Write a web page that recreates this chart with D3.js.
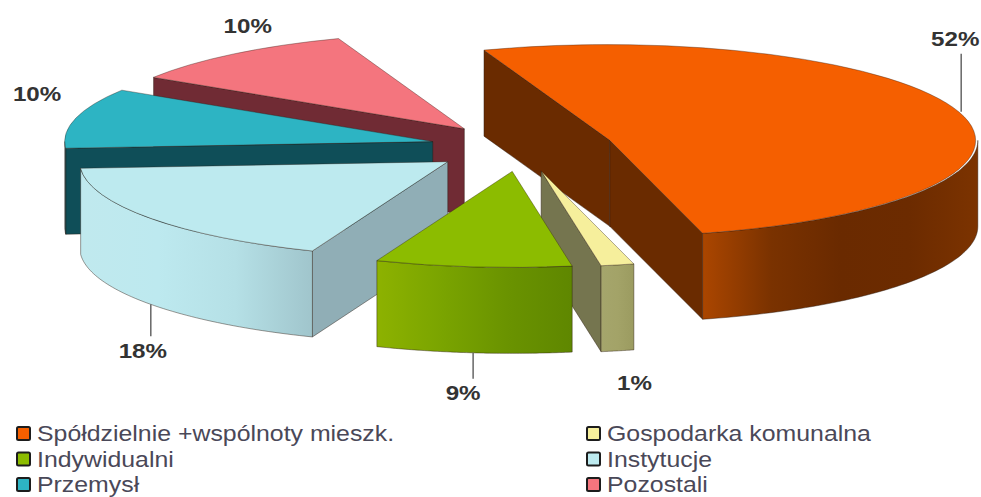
<!DOCTYPE html>
<html>
<head>
<meta charset="utf-8">
<script src="https://cdn.jsdelivr.net/npm/d3@7"></script>
<style>
  body { margin: 0; background: #fff; }
  svg { display: block; }
  text { font-family: "Liberation Sans", Arial, sans-serif; }
</style>
</head>
<body>
<div id="chart"></div>
<script>
const categories = ["Spółdzielnie +wspólnoty mieszk.", "Gospodarka komunalna", "Indywidualni", "Instytucje", "Przemysł", "Pozostali"];
// the labels show them rounded
const shares = [51.5, 1.45, 8.6, 17.9, 10.1, 10.45];

const topColors = ["#f55f00", "#f6ef9c", "#8cbc00", "#bdeaef", "#2db4c3", "#f4757e"];
const wallColors = ["#6a2b00", "#75754f", "#6f9600", "#90aeb6", "#0f4e58", "#702b34"];
const rimStops = [
  ["#ab4600", "#7a3200", "#6a2a00", "#6c2b00", "#7c3300"],
  ["#a5a56c", "#a3a368", "#9b9b60"],
  ["#8db200", "#7aa400", "#6a9300", "#5f8700"],
  ["#c0e9ee", "#bde9ef", "#b5e0e6", "#a0c5cc"],
  ["#0f4e58", "#0f4e58"],
  ["#702b34", "#702b34"]
];

const width = 981;
const height = 497;

// pie is seen from above: a circle squashed to an ellipse, every slice pushed out along its middle
const cx = 522;
const cy = 147.5;
const rx = 368;
const ry = 96;
const depth = 86;
const explode = 0.25;
const firstAngle = -20 * Math.PI / 180;

const drawOrder = [0, 5, 4, 3, 1, 2];
const labelOffsets = [[-6, -66], [17, 39], [-10, 47], [-8, 54], [-39, -17], [14, -21]];
const leaderLengths = [58, 0, 26, 32, 0, 0];

const svg = d3.select("#chart")
  .append("svg")
    .attr("width", width)
    .attr("height", height)
    .attr("viewBox", [0, 0, width, height]);

const defs = svg.append("defs");

const slices = d3.pie()
  .sort(null)
  .startAngle(firstAngle)
  .endAngle(firstAngle + 2 * Math.PI)(shares);

const onPlane = (angle, r = 1) => [r * rx * Math.sin(angle), -r * ry * Math.cos(angle)];

const unitArc = d3.arc().innerRadius(0).outerRadius(1);
const line = d3.line();

const drawSlice = (d, i) => {
  const mid = (d.startAngle + d.endAngle) / 2;
  const [ox, oy] = onPlane(mid, explode);
  const ax = cx + ox;
  const ay = cy + oy;
  const g = svg.append("g").attr("class", `slice-${i}`);

  const rimPoint = angle => {
    const [x, y] = onPlane(angle);
    return [ax + x, ay + y];
  };

  // flat side walls, only those turned towards the viewer
  const sideWall = angle => {
    const [x, y] = rimPoint(angle);
    g.append("path")
      .attr("d", line([[ax, ay], [x, y], [x, y + depth], [ax, ay + depth]]) + "Z")
      .attr("fill", wallColors[i])
      .attr("stroke", "#2a1a10")
      .attr("stroke-opacity", 0.55)
      .attr("stroke-width", 0.8);
  };
  if (Math.sin(d.startAngle) < 0) sideWall(d.startAngle);
  if (Math.sin(d.endAngle) > 0) sideWall(d.endAngle);

  // curved outer wall, front half of the ellipse only
  const from = Math.max(d.startAngle, Math.PI / 2);
  const to = Math.min(d.endAngle, 3 * Math.PI / 2);
  if (to > from) {
    const samples = d3.range(0, 61).map(k => rimPoint(from + (to - from) * k / 60));
    const xs = d3.extent(samples, p => p[0]);
    const stops = rimStops[i];
    const grad = defs.append("linearGradient")
      .attr("id", `rim-${i}`)
      .attr("gradientUnits", "userSpaceOnUse")
      .attr("x1", xs[0]).attr("x2", xs[1])
      .attr("y1", 0).attr("y2", 0);
    stops.forEach((c, k) => {
      grad.append("stop")
        .attr("offset", k / (stops.length - 1))
        .attr("stop-color", c);
    });
    const lower = samples.map(p => [p[0], p[1] + depth]).reverse();
    g.append("path")
      .attr("d", line(samples.concat(lower)) + "Z")
      .attr("fill", `url(#rim-${i})`)
      .attr("stroke", "#2a1a10")
      .attr("stroke-opacity", 0.55)
      .attr("stroke-width", 0.8);
  }

  // top face
  g.append("path")
    .attr("d", unitArc(d))
    .attr("transform", `translate(${ax},${ay}) scale(${rx},${ry})`)
    .attr("fill", topColors[i])
    .attr("stroke", "#2a1a10")
    .attr("stroke-opacity", 0.45)
    .attr("stroke-width", 0.8)
    .attr("vector-effect", "non-scaling-stroke");

  return { mid, ax, ay };
};

const placed = [];
drawOrder.forEach(i => { placed[i] = drawSlice(slices[i], i); });

/*    value labels and leader lines    */
slices.forEach((d, i) => {
  const { mid, ax, ay } = placed[i];
  const [x, y] = onPlane(mid);
  const front = Math.cos(mid) < 0;
  const edgeX = ax + x;
  const edgeY = ay + y + (front ? depth : 0);
  if (leaderLengths[i] > 0) {
    svg.append("line")
      .attr("x1", edgeX).attr("x2", edgeX)
      .attr("y1", edgeY)
      .attr("y2", edgeY + (front ? leaderLengths[i] : -leaderLengths[i]))
      .attr("stroke", "#666")
      .attr("stroke-width", 1.5);
  }
  // the picture is stretched sideways, the text with it
  svg.append("text")
    .attr("transform", `translate(${edgeX + labelOffsets[i][0]},${edgeY + labelOffsets[i][1]}) scale(1.15,1)`)
    .attr("text-anchor", "middle")
    .attr("font-size", 21)
    .attr("font-weight", "bold")
    .attr("fill", "#333")
    .text(`${Math.round(shares[i])}%`);
});

/*    legend: two columns, filled row by row    */
const rowScale = d3.scalePoint().domain([0, 1, 2]).range([434, 485]);
const colScale = d3.scalePoint().domain([0, 1]).range([16, 586]);

const legend = svg.append("g")
  .selectAll("g")
  .data(categories)
  .join("g")
    .attr("transform", (d, i) => `translate(${colScale(i % 2)},${rowScale(Math.floor(i / 2))})`);

legend.append("rect")
  .attr("x", 1).attr("y", -7)
  .attr("width", 13).attr("height", 13)
  .attr("rx", 1.5)
  .attr("fill", (d, i) => topColors[i])
  .attr("stroke", "#1c1c1c")
  .attr("stroke-width", 2);

legend.append("text")
  .attr("transform", "translate(21,7) scale(1.13,1)")
  .attr("font-size", 22)
  .attr("fill", "#4a4858")
  .text(d => d);
</script>
</body>
</html>
